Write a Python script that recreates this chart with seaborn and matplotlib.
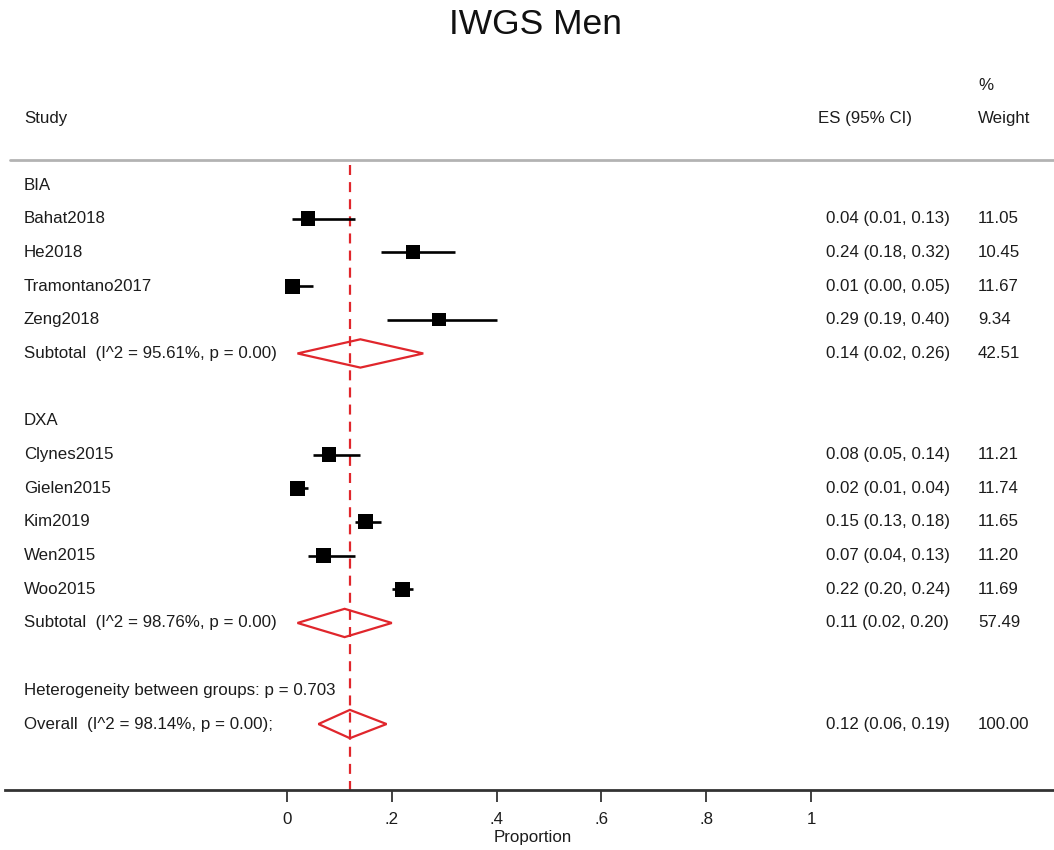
import matplotlib
matplotlib.use("Agg")
import matplotlib.pyplot as plt
from matplotlib.patches import Polygon
from matplotlib import transforms
import numpy as np
import pandas as pd
import seaborn as sns

# ---- study-level estimates ----
bia_studies = ["Bahat2018", "He2018", "Tramontano2017", "Zeng2018"]
bia_es = [0.04, 0.24, 0.01, 0.29]
bia_lo = [0.01, 0.18, 0.00, 0.19]
bia_hi = [0.13, 0.32, 0.05, 0.40]
bia_w = [11.05, 10.45, 11.67, 9.34]

dxa_studies = ["Clynes2015", "Gielen2015", "Kim2019", "Wen2015", "Woo2015"]
dxa_es = [0.08, 0.02, 0.15, 0.07, 0.22]
dxa_lo = [0.05, 0.01, 0.13, 0.04, 0.20]
dxa_hi = [0.14, 0.04, 0.18, 0.13, 0.24]
dxa_w = [11.21, 11.74, 11.65, 11.20, 11.69]

# ---- pooled estimates ----
pooled_labels = ["Subtotal  (I^2 = 95.61%, p = 0.00)",
                 "Subtotal  (I^2 = 98.76%, p = 0.00)",
                 "Overall  (I^2 = 98.14%, p = 0.00);"]
pooled_es = [0.14, 0.11, 0.12]
pooled_lo = [0.02, 0.02, 0.06]
pooled_hi = [0.26, 0.20, 0.19]
pooled_w = [42.51, 57.49, 100.00]

group_names = ["BIA", "DXA"]
het_text = "Heterogeneity between groups: p = 0.703"
x_ticks = [0, 0.2, 0.4, 0.6, 0.8, 1.0]
x_ticklabels = ["0", ".2", ".4", ".6", ".8", "1"]

# ---- row layout ----
rows_bia = [1, 2, 3, 4]
row_sub_bia = 5
row_dxa_head = 7
rows_dxa = [8, 9, 10, 11, 12]
row_sub_dxa = 13
row_het = 15
row_overall = 16

sns.set_theme(style="white")
plt.rcParams["font.family"] = ["Liberation Sans", "DejaVu Sans"]
txt_color = "#1c1c1c"
red = "#e0262c"

W, H = 1054, 850
fig = plt.figure(figsize=(W / 100, H / 100), dpi=100)
ax_bottom_px = 790
ax = fig.add_axes([0, (H - ax_bottom_px) / H, 1, ax_bottom_px / H])

px_per_unit = 524.0
x0_px = 287.0
row_px = 33.69
row0_px = 185.0
ax.set_xlim(-x0_px / px_per_unit, (W - x0_px) / px_per_unit)
ax.set_ylim((ax_bottom_px - row0_px) / row_px, -row0_px / row_px)

df = pd.DataFrame({
    "study": bia_studies + dxa_studies,
    "es": bia_es + dxa_es,
    "lo": bia_lo + dxa_lo,
    "hi": bia_hi + dxa_hi,
    "w": bia_w + dxa_w,
    "row": rows_bia + rows_dxa,
})

# confidence intervals
ax.hlines(df["row"], df["lo"], df["hi"], color="black", lw=1.9, zorder=3)
# weighted square markers
sizes = {w: 10.0 * w for w in df["w"].unique()}
sns.scatterplot(data=df, x="es", y="row", size="w", sizes=sizes, marker="s",
                color="black", edgecolor="black", linewidth=0, legend=False,
                ax=ax, zorder=4)

# pooled diamonds
pooled_rows = [row_sub_bia, row_sub_dxa, row_overall]
half_h = 0.42
for r, e, lo, hi in zip(pooled_rows, pooled_es, pooled_lo, pooled_hi):
    ax.add_patch(Polygon([(lo, r), (e, r - half_h), (hi, r), (e, r + half_h)],
                         closed=True, fill=False, edgecolor=red, lw=1.6, zorder=4))

# overall reference line
top_row = (165 - row0_px) / row_px
ax.vlines(pooled_es[2], top_row, ax.get_ylim()[0], colors=red, lw=1.6,
          linestyles=(0, (4.5, 3.2)), zorder=2)

# header rule
ax.axhline((160 - row0_px) / row_px, xmin=10 / W, xmax=1, color="#b3b3b3", lw=2)

# ---- text columns ----
tr = transforms.blended_transform_factory(ax.transAxes, ax.transData)
xs_study, xs_eshdr, xs_es, xs_w = 24 / W, 818 / W, 826 / W, 978 / W
fs = 12.2

def put(x, y, s, **kw):
    ax.text(x, y, s, transform=tr, fontsize=fs, color=txt_color,
            ha="left", va="center", **kw)

hdr = (119 - row0_px) / row_px
put(xs_study, hdr, "Study")
put(xs_eshdr, hdr, "ES (95% CI)")
put(xs_w, hdr, "Weight")
put(xs_w, (86 - row0_px) / row_px, "%")

put(xs_study, 0, group_names[0])
put(xs_study, row_dxa_head, group_names[1])
for _, rr in df.iterrows():
    put(xs_study, rr["row"], rr["study"])
    put(xs_es, rr["row"], f"{rr['es']:.2f} ({rr['lo']:.2f}, {rr['hi']:.2f})")
    put(xs_w, rr["row"], f"{rr['w']:.2f}")
for r, lab, e, lo, hi, w in zip(pooled_rows, pooled_labels, pooled_es,
                                pooled_lo, pooled_hi, pooled_w):
    put(xs_study, r, lab)
    put(xs_es, r, f"{e:.2f} ({lo:.2f}, {hi:.2f})")
    put(xs_w, r, f"{w:.2f}")
put(xs_study, row_het, het_text)

# ---- x axis ----
for side in ["top", "left", "right"]:
    ax.spines[side].set_visible(False)
ax.spines["bottom"].set_color("#333333")
ax.spines["bottom"].set_linewidth(2.0)
ax.spines["bottom"].set_bounds(ax.get_xlim()[0] + 5 / px_per_unit, ax.get_xlim()[1])
ax.set_yticks([])
ax.set_ylabel("")
ax.set_xticks(x_ticks)
ax.set_xticklabels(x_ticklabels)
ax.tick_params(axis="x", direction="out", length=8.5, width=1.3, color="#333333",
               pad=7, labelsize=fs, labelcolor=txt_color, bottom=True)
ax.set_xlabel("Proportion", fontsize=fs, color=txt_color)
ax.xaxis.set_label_coords(533 / W, -40 / ax_bottom_px)
ax.xaxis.label.set_va("top")

fig.text(535 / W, 1 - 25 / H, "IWGS Men", fontsize=25.5, color="#111111",
         ha="center", va="center")

fig.savefig("out.png", dpi=100, facecolor="white")
